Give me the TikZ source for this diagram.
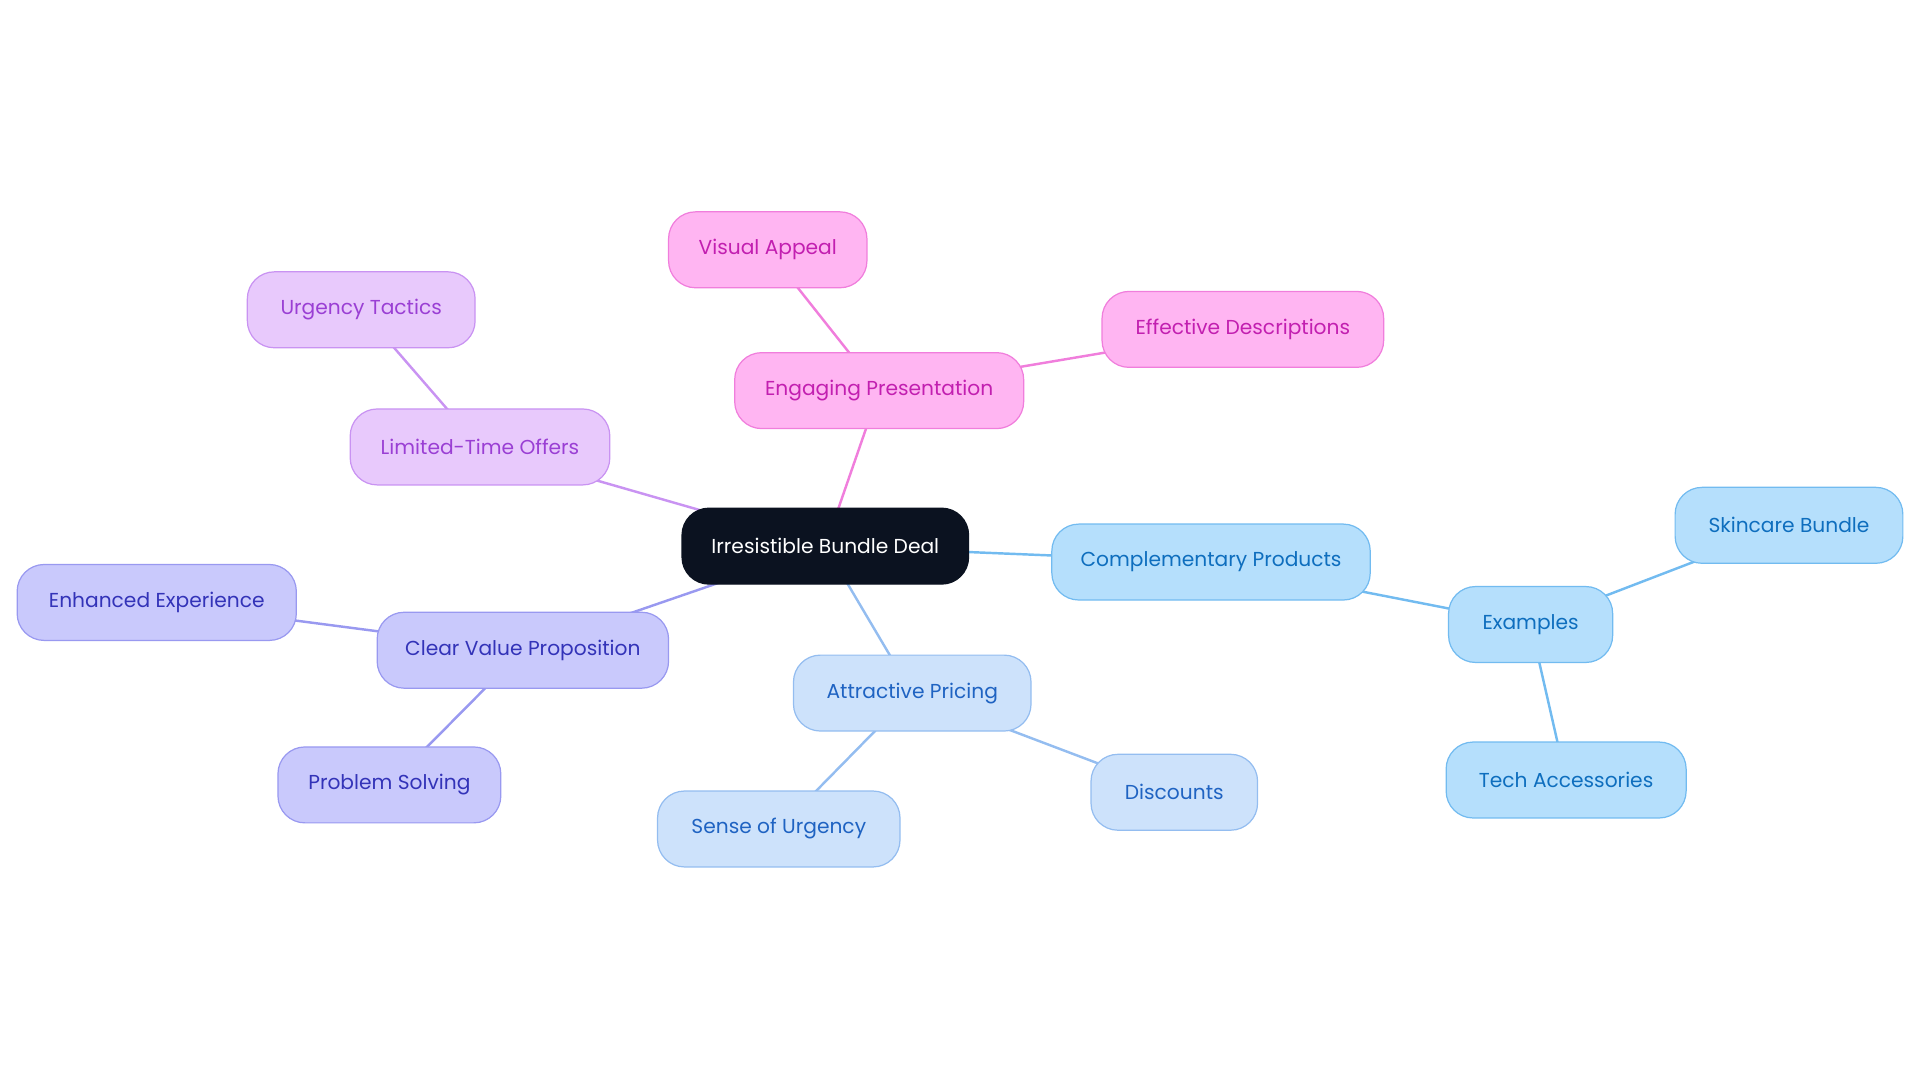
\documentclass[tikz,border=0pt]{standalone}
\usepackage{fontspec}
\setmainfont{Poppins}
\usetikzlibrary{backgrounds}
\definecolor{pkF}{HTML}{FFB5F2}\definecolor{pkD}{HTML}{F07EDC}\definecolor{pkT}{HTML}{C21FB0}
\definecolor{lvF}{HTML}{E8C9FC}\definecolor{lvD}{HTML}{C993F2}\definecolor{lvT}{HTML}{9A3FD4}
\definecolor{inF}{HTML}{C9C9FC}\definecolor{inD}{HTML}{9999F0}\definecolor{inT}{HTML}{3333B8}
\definecolor{lbF}{HTML}{CDE2FB}\definecolor{lbD}{HTML}{94BDF0}\definecolor{lbT}{HTML}{1F63C2}
\definecolor{skF}{HTML}{B5DFFC}\definecolor{skD}{HTML}{72BBF0}\definecolor{skT}{HTML}{0E6EBE}
\definecolor{dk}{HTML}{0B1220}
\tikzset{
 box/.style={rounded corners=22pt,minimum height=62pt,inner xsep=0pt,line width=1pt,font=\fontsize{16.5pt}{20pt}\selectfont},
 pk/.style={box,fill=pkF,draw=pkD,text=pkT},
 lv/.style={box,fill=lvF,draw=lvD,text=lvT},
 ind/.style={box,fill=inF,draw=inD,text=inT},
 lb/.style={box,fill=lbF,draw=lbD,text=lbT},
 sk/.style={box,fill=skF,draw=skD,text=skT},
 ln/.style={line width=2pt}
}
\begin{document}
\begin{tikzpicture}[x=1pt,y=-1pt]
\useasboundingbox (0,0) rectangle (1568,884);
\node[box,fill=dk,draw=dk,text=white,minimum width=234pt] (c) at (674,446) {Irresistible Bundle Deal};
\node[pk,minimum width=236pt] (ep) at (718,319) {Engaging Presentation};
\node[pk,minimum width=162pt] (va) at (627,204) {Visual Appeal};
\node[pk,minimum width=230pt] (ed) at (1015,269) {Effective Descriptions};
\node[lv,minimum width=212pt] (lt) at (392,365) {Limited-Time Offers};
\node[lv,minimum width=186pt] (ut) at (295,253) {Urgency Tactics};
\node[ind,minimum width=238pt] (cv) at (427,531) {Clear Value Proposition};
\node[ind,minimum width=228pt] (ee) at (128,492) {Enhanced Experience};
\node[ind,minimum width=182pt] (ps) at (318,641) {Problem Solving};
\node[lb,minimum width=194pt] (ap) at (745,566) {Attractive Pricing};
\node[lb,minimum width=198pt] (su) at (636,677) {Sense of Urgency};
\node[lb,minimum width=136pt] (di) at (959,647) {Discounts};
\node[sk,minimum width=260pt] (cp) at (989,459) {Complementary Products};
\node[sk,minimum width=134pt] (ex) at (1250,510) {Examples};
\node[sk,minimum width=186pt] (sb) at (1461,429) {Skincare Bundle};
\node[sk,minimum width=196pt] (ta) at (1279,637) {Tech Accessories};
\begin{scope}[on background layer]
\draw[ln,pkD] (c.center) -- (ep.center); \draw[ln,pkD] (ep.center) -- (va.center); \draw[ln,pkD] (ep.center) -- (ed.center);
\draw[ln,lvD] (c.center) -- (lt.center); \draw[ln,lvD] (lt.center) -- (ut.center);
\draw[ln,inD] (c.center) -- (cv.center); \draw[ln,inD] (cv.center) -- (ee.center); \draw[ln,inD] (cv.center) -- (ps.center);
\draw[ln,lbD] (c.center) -- (ap.center); \draw[ln,lbD] (ap.center) -- (su.center); \draw[ln,lbD] (ap.center) -- (di.center);
\draw[ln,skD] (c.center) -- (cp.center); \draw[ln,skD] (cp.center) -- (ex.center); \draw[ln,skD] (ex.center) -- (sb.center); \draw[ln,skD] (ex.center) -- (ta.center);
\end{scope}
\end{tikzpicture}
\end{document}
